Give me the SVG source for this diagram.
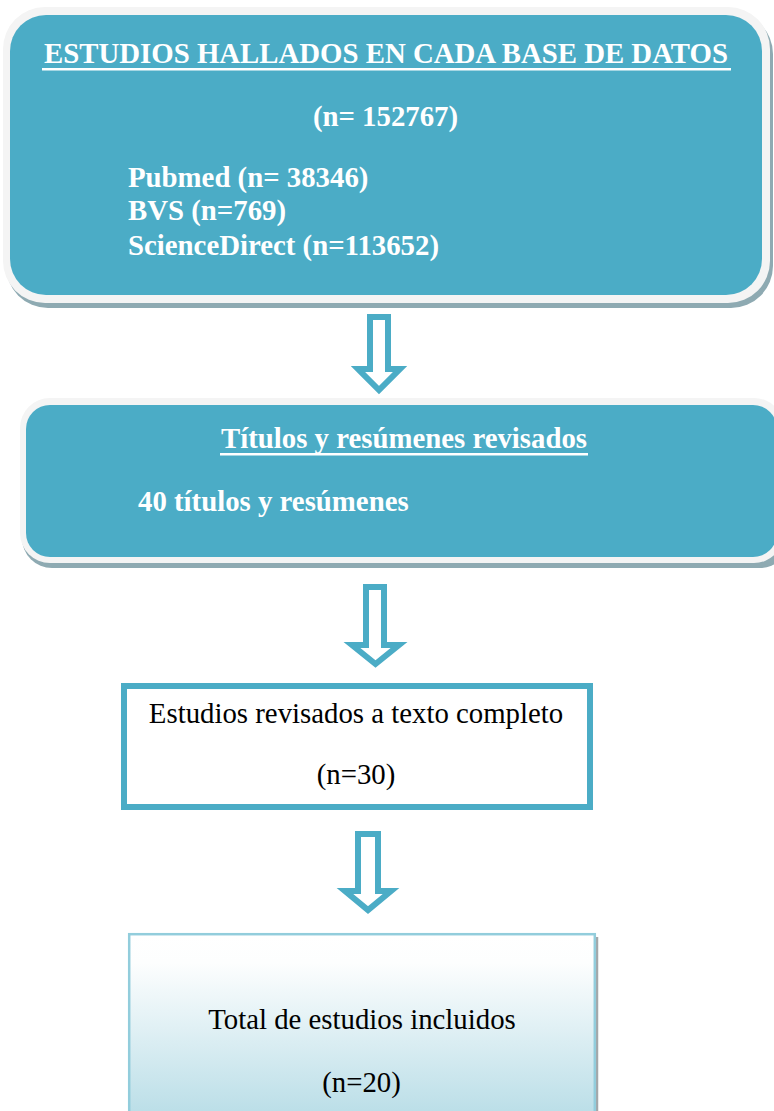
<svg xmlns="http://www.w3.org/2000/svg" width="774" height="1111" viewBox="0 0 774 1111">
  <defs>
    <linearGradient id="g4" x1="0" y1="0" x2="0" y2="1">
      <stop offset="0" stop-color="#ffffff"/>
      <stop offset="0.15" stop-color="#fdfefe"/>
      <stop offset="1" stop-color="#b6dce6"/>
    </linearGradient>
    <style>
      .shadow { fill: #8eaab2; }
      .ring { fill: #f4f4f4; }
      .teal { fill: #4bacc6; }
      .wb { font-family: "Liberation Serif", "Times New Roman", serif; font-weight: bold; font-size: 28.8px; fill: #ffffff; }
      .bk { font-family: "Liberation Serif", "Times New Roman", serif; font-size: 28.8px; fill: #000000; }
      .ul { fill: #ffffff; }
      .arrow { fill: #ffffff; stroke: #4bacc6; stroke-width: 6; stroke-linejoin: miter; }
    </style>
  </defs>
  <rect width="774" height="1111" fill="#ffffff"/>

  <g id="node-estudios-hallados">
    <rect class="shadow" x="6" y="12" width="767" height="296" rx="42"/>
    <rect class="ring" x="3" y="7" width="767" height="296" rx="42"/>
    <rect class="teal" x="10" y="15" width="752" height="280" rx="36"/>
    <text class="wb" x="386" y="63" text-anchor="middle">ESTUDIOS HALLADOS EN CADA BASE DE DATOS</text>
    <rect class="ul" x="42" y="68" width="689" height="2.5"/>
    <text class="wb" x="385.5" y="126" text-anchor="middle">(n= 152767)</text>
    <text class="wb" x="128" y="187">Pubmed (n= 38346)</text>
    <text class="wb" x="128" y="220">BVS (n=769)</text>
    <text class="wb" x="128" y="255">ScienceDirect (n=113652)</text>
  </g>

  <g id="node-titulos">
    <rect class="shadow" x="22" y="404" width="768" height="164" rx="30"/>
    <rect class="ring" x="20" y="398" width="764" height="165" rx="30"/>
    <rect class="teal" x="26" y="405" width="751" height="152" rx="24"/>
    <text class="wb" x="404" y="448" text-anchor="middle">Títulos y resúmenes revisados</text>
    <rect class="ul" x="220" y="453" width="368" height="2.5"/>
    <text class="wb" x="138" y="511">40 títulos y resúmenes</text>
  </g>

  <g id="node-texto-completo">
    <rect x="124" y="686" width="466" height="121" fill="#ffffff" stroke="#4bacc6" stroke-width="6"/>
    <text class="bk" x="356" y="723" text-anchor="middle">Estudios revisados a texto completo</text>
    <text class="bk" x="356" y="784" text-anchor="middle">(n=30)</text>
  </g>

  <g id="node-total">
    <line x1="597" y1="937" x2="597" y2="1111" stroke="#a3a8aa" stroke-width="2.5"/>
    <rect x="129.2" y="934.2" width="465.6" height="190" fill="url(#g4)" stroke="#92cddc" stroke-width="2.5"/>
    <text class="bk" x="362" y="1029" text-anchor="middle">Total de estudios incluidos</text>
    <text class="bk" x="361.5" y="1092" text-anchor="middle">(n=20)</text>
  </g>

  <g id="connectors">
    <polygon class="arrow" points="370,317 388,317 388,369 400,369 379,390 358,369 370,369"/>
    <polygon class="arrow" points="366,587 384,587 384,645 399,645 375.5,664 352,645 366,645"/>
    <polygon class="arrow" points="358,834 378,834 378,891 391,891 368,910 345,891 358,891"/>
  </g>
</svg>
